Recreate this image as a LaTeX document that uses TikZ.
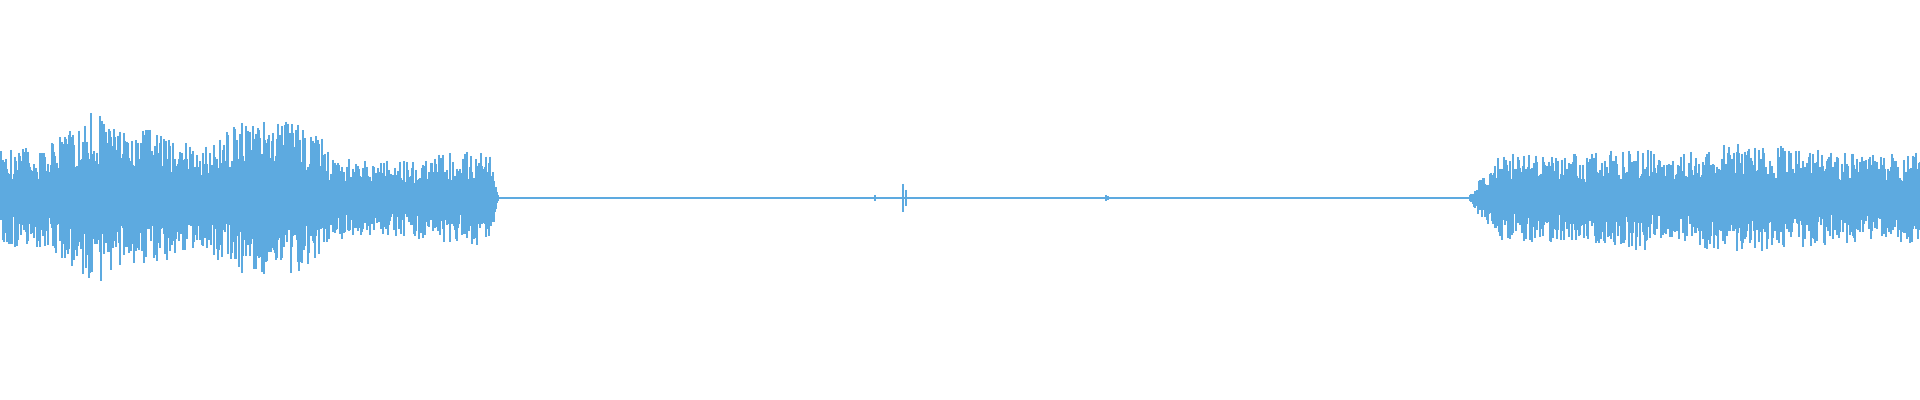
\documentclass[tikz,border=0pt]{standalone}
\usepackage{tikz}
\definecolor{wave}{HTML}{5DAAE0}
\tikzset{sample/.style={wave, line width=0.45pt}}
\begin{document}
\begin{tikzpicture}[x=0.01cm,y=0.01cm]
\useasboundingbox (0,0) rectangle (1920,400);
\pgfmathsetseed{4711}
% baseline
\draw[wave, line width=0.5pt] (0,202) -- (1920,202);
% envelope knots: start/end/amp-start/amp-end
\foreach \a/\b/\ea/\eb in {0/40/48/52, 41/60/52/62, 61/95/62/88, 96/115/88/68, 116/150/68/72,
  151/185/72/56, 186/200/56/46, 201/215/46/62, 216/240/62/78, 241/290/78/78, 291/320/78/62,
  321/330/62/42, 331/380/42/37, 381/420/37/42, 421/470/42/47, 471/488/47/52, 489/492/52/40,
  493/498/40/4, 1470/1480/3/20, 1481/1500/20/44, 1501/1620/44/48, 1621/1640/48/56,
  1641/1660/56/40, 1661/1720/40/55, 1721/1780/55/52, 1781/1860/52/44, 1861/1920/44/46}{
  \foreach \x in {\a,...,\b}{
    \pgfmathsetmacro{\env}{\ea+(\eb-\ea)*(\x-\a)/(\b-\a+0.001)}
    \pgfmathsetmacro{\up}{\env*(0.35+0.65*rnd^1.3)}
    \pgfmathsetmacro{\dn}{\env*(0.35+0.65*rnd^1.3)}
    \draw[sample] (\x,202+\up) -- (\x,202-\dn);
  }
}
% small blips in the quiet part
\draw[sample, line width=0.8pt] (903,216) -- (903,188);
\draw[sample, line width=0.8pt] (906,210) -- (906,194);
\draw[sample] (875,205) -- (875,199);
\draw[sample] (1106,205) -- (1106,199);
\draw[sample] (1108,204) -- (1108,200);
\end{tikzpicture}
\end{document}
